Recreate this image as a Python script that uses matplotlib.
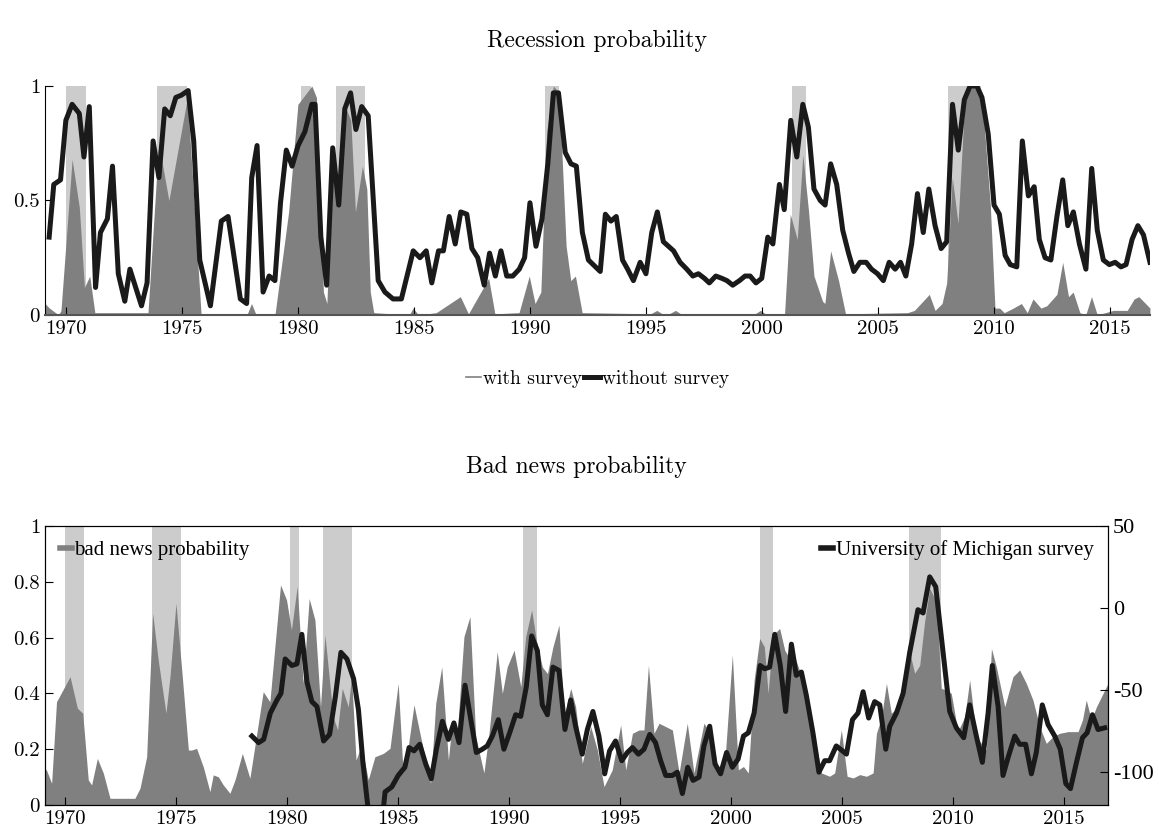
import numpy as np
import matplotlib
matplotlib.use("Agg")
import matplotlib.pyplot as plt
from matplotlib.lines import Line2D

plt.rcParams['font.family'] = ['cmr10', 'DejaVu Serif']
plt.rcParams['axes.unicode_minus'] = False
plt.rcParams['mathtext.fontset'] = 'cm'

# recession bands (NBER)
rec_start = [1970.0, 1973.93, 1980.13, 1981.64, 1990.63, 2001.3, 2008.02]
rec_end = [1970.86, 1975.21, 1980.55, 1982.91, 1991.25, 2001.9, 2009.44]

# top panel: recession probability without survey (line)
no_surv_t = [1969.28, 1969.48, 1969.77, 1970.0, 1970.27, 1970.58, 1970.78, 1971.01, 1971.28, 1971.49,
             1971.79, 1972.01, 1972.26, 1972.54, 1972.76, 1973.26, 1973.5, 1973.76, 1974.01, 1974.26,
             1974.5, 1974.74, 1974.98, 1975.27, 1975.51, 1975.77, 1976.23, 1976.7, 1976.99, 1977.52,
             1977.79, 1978.01, 1978.24, 1978.5, 1978.76, 1979.01, 1979.25, 1979.5, 1979.75, 1980.01,
             1980.3, 1980.6, 1980.74, 1980.99, 1981.24, 1981.5, 1981.76, 1982.02, 1982.27, 1982.5,
             1982.75, 1983.03, 1983.46, 1983.75, 1984.1, 1984.46, 1984.97, 1985.26, 1985.53, 1985.77,
             1986.06, 1986.27, 1986.52, 1986.78, 1987.02, 1987.28, 1987.5, 1987.75, 1988.03, 1988.26,
             1988.51, 1988.75, 1989.0, 1989.26, 1989.54, 1989.77, 1990.0, 1990.26, 1990.52, 1990.77,
             1991.01, 1991.23, 1991.52, 1991.77, 1992.0, 1992.26, 1992.52, 1993.03, 1993.25, 1993.49,
             1993.72, 1993.99, 1994.21, 1994.46, 1994.75, 1995.0, 1995.25, 1995.49, 1995.75, 1996.19,
             1996.47, 1996.76, 1997.02, 1997.26, 1997.52, 1997.73, 1998.01, 1998.27, 1998.49, 1998.74,
             1999.03, 1999.27, 1999.49, 1999.74, 1999.99, 2000.25, 2000.47, 2000.75, 2000.96, 2001.24,
             2001.5, 2001.76, 2002.0, 2002.24, 2002.51, 2002.72, 2002.96, 2003.22, 2003.48, 2003.73,
             2003.96, 2004.22, 2004.49, 2004.72, 2004.98, 2005.23, 2005.48, 2005.74, 2005.97, 2006.2,
             2006.45, 2006.7, 2006.95, 2007.19, 2007.46, 2007.72, 2007.96, 2008.21, 2008.46, 2008.72,
             2008.97, 2009.26, 2009.48, 2009.75, 2010.0, 2010.23, 2010.48, 2010.7, 2010.98, 2011.22,
             2011.48, 2011.73, 2011.95, 2012.2, 2012.45, 2012.71, 2012.96, 2013.18, 2013.42, 2013.68,
             2013.96, 2014.21, 2014.45, 2014.71, 2014.97, 2015.22, 2015.47, 2015.69, 2015.95, 2016.2,
             2016.44, 2016.72]
no_surv_v = [0.34, 0.57, 0.59, 0.85, 0.92, 0.88, 0.69, 0.91, 0.12, 0.36,
             0.42, 0.65, 0.18, 0.06, 0.2, 0.04, 0.14, 0.76, 0.60, 0.90,
             0.87, 0.95, 0.96, 0.98, 0.76, 0.24, 0.04, 0.41, 0.43, 0.07,
             0.05, 0.60, 0.74, 0.10, 0.17, 0.15, 0.49, 0.72, 0.65, 0.74,
             0.80, 0.92, 0.92, 0.34, 0.13, 0.73, 0.48, 0.90, 0.97, 0.81,
             0.91, 0.87, 0.15, 0.10, 0.07, 0.07, 0.28, 0.25, 0.28, 0.14,
             0.28, 0.28, 0.43, 0.31, 0.45, 0.44, 0.29, 0.25, 0.13, 0.27,
             0.17, 0.28, 0.17, 0.17, 0.20, 0.25, 0.49, 0.30, 0.42, 0.66,
             0.97, 0.97, 0.71, 0.66, 0.65, 0.36, 0.24, 0.19, 0.44, 0.41,
             0.43, 0.24, 0.20, 0.15, 0.23, 0.18, 0.36, 0.45, 0.32, 0.28,
             0.23, 0.20, 0.17, 0.18, 0.16, 0.14, 0.17, 0.16, 0.15, 0.13,
             0.15, 0.17, 0.17, 0.14, 0.16, 0.34, 0.31, 0.57, 0.46, 0.85,
             0.69, 0.92, 0.82, 0.55, 0.50, 0.48, 0.66, 0.57, 0.37, 0.27,
             0.19, 0.23, 0.23, 0.20, 0.18, 0.15, 0.23, 0.20, 0.23, 0.17,
             0.31, 0.53, 0.36, 0.55, 0.39, 0.29, 0.32, 0.92, 0.72, 0.94,
             1.0, 1.0, 0.95, 0.79, 0.48, 0.44, 0.26, 0.22, 0.21, 0.76,
             0.52, 0.56, 0.33, 0.25, 0.24, 0.43, 0.59, 0.39, 0.45, 0.31,
             0.20, 0.64, 0.37, 0.24, 0.22, 0.23, 0.21, 0.22, 0.33, 0.39,
             0.35, 0.23]

# top panel: recession probability with survey (area)
with_surv_t = [1969.1, 1969.29, 1969.69, 1969.79, 1970.27, 1970.58, 1970.8, 1971.03, 1971.25, 1973.54,
               1973.75, 1974.0, 1974.44, 1975.24, 1975.83, 1977.8, 1978.0, 1978.2, 1979.01, 1979.6,
               1980.0, 1980.6, 1980.8, 1981.1, 1981.25, 1981.5, 1981.76, 1982.08, 1982.28, 1982.48,
               1982.78, 1982.97, 1983.12, 1983.27, 1984.8, 1984.96, 1985.2, 1985.96, 1987.0, 1987.35,
               1988.22, 1988.49, 1989.53, 1989.97, 1990.22, 1990.47, 1990.72, 1991.01, 1991.26, 1991.56,
               1991.76, 1991.96, 1992.25, 1995.2, 1995.47, 1995.7, 1996.0, 1996.27, 1996.5, 1999.7,
               1999.93, 2000.15, 2000.73, 2000.97, 2001.22, 2001.52,
               2001.76, 2002.01, 2002.24, 2002.61, 2002.71, 2002.96, 2003.3, 2003.6, 2006.27, 2006.57,
               2007.21, 2007.46, 2007.76, 2007.96, 2008.2, 2008.45, 2008.75, 2009.1, 2009.48, 2009.84,
               2010.04, 2010.24, 2010.44, 2010.83, 2011.18, 2011.43, 2011.68, 2012.02, 2012.27, 2012.71,
               2012.96, 2013.21, 2013.41, 2013.7, 2013.95, 2014.2, 2014.45, 2015.14, 2015.74, 2016.04,
               2016.24, 2016.72]
with_surv_v = [0.05, 0.03, 0.0, 0.02, 0.68, 0.47, 0.12, 0.17, 0.01, 0.01,
               0.35, 0.75, 0.5, 0.95, 0.0, 0.0, 0.05, 0.0, 0.0, 0.45,
               0.92, 1.0, 0.95, 0.1, 0.05, 0.73, 0.5, 0.9, 0.85, 0.45,
               0.65, 0.55, 0.1, 0.01, 0.0, 0.03, 0.0, 0.01, 0.08, 0.005,
               0.16, 0.005, 0.01, 0.17, 0.05, 0.1, 0.8, 1.0, 0.97, 0.3,
               0.15, 0.17, 0.01, 0.005, 0.02, 0.005, 0.005, 0.02, 0.005, 0.005,
               0.02, 0.005, 0.005, 0.0, 0.44, 0.33,
               0.70, 0.45, 0.17, 0.06, 0.05, 0.28, 0.15, 0.005, 0.01, 0.02,
               0.09, 0.02, 0.05, 0.14, 0.6, 0.4, 0.96, 1.0, 0.96, 0.48,
               0.03, 0.03, 0.01, 0.03, 0.05, 0.01, 0.07, 0.03, 0.04, 0.09,
               0.23, 0.08, 0.1, 0.01, 0.0, 0.08, 0.0, 0.02, 0.02, 0.07,
               0.08, 0.03]

# bottom panel: bad news probability (area, left axis)
bad_t = [1969.1, 1969.17, 1969.4, 1969.62, 1970.23, 1970.56, 1970.8, 1971.05, 1971.2, 1971.46,
         1971.73, 1972.03, 1973.15, 1973.38, 1973.68, 1973.95, 1974.2, 1974.55, 1974.73, 1975.0,
         1975.26, 1975.56, 1975.71, 1975.93, 1976.23, 1976.53, 1976.68, 1976.91, 1977.13, 1977.43,
         1977.66, 1977.99, 1978.33, 1978.93, 1979.23, 1979.71, 1979.98, 1980.2, 1980.46, 1980.73,
         1981.0, 1981.26, 1981.51, 1981.71, 1982.08, 1982.28, 1982.49, 1982.76, 1982.91, 1983.11,
         1983.36, 1983.66, 1983.96, 1984.34, 1984.64, 1985.01, 1985.23, 1985.42, 1985.72, 1986.02,
         1986.47, 1986.7, 1986.97, 1987.27, 1987.45, 1987.67, 1987.97, 1988.24, 1988.5, 1988.87,
         1989.1, 1989.47, 1989.7, 1989.92, 1990.23, 1990.53, 1990.75, 1991.02, 1991.23, 1991.5,
         1991.73, 1991.98, 1992.25, 1992.48, 1992.78, 1993.0, 1993.3, 1993.68, 1993.98, 1994.28,
         1994.65, 1995.03, 1995.26, 1995.56, 1995.86, 1996.08, 1996.28, 1996.53, 1996.76, 1997.06,
         1997.36, 1997.66, 1998.03, 1998.33, 1998.78, 1999.08, 1999.46, 1999.76, 2000.06, 2000.33,
         2000.56, 2000.78, 2001.04, 2001.29, 2001.5, 2001.67, 2001.89, 2002.19, 2002.42, 2002.64,
         2002.87, 2003.39, 2003.77, 2004.07, 2004.44, 2004.67, 2004.97, 2005.23, 2005.5, 2005.8,
         2006.1, 2006.4, 2006.55, 2006.77, 2007.0, 2007.22, 2007.45, 2007.75, 2007.97, 2008.27,
         2008.5, 2008.72, 2008.95, 2009.25, 2009.47, 2009.7, 2009.92, 2010.22, 2010.53, 2010.75,
         2011.05, 2011.5, 2011.73, 2011.95, 2012.33, 2012.7, 2013.0, 2013.3, 2013.6, 2013.9,
         2014.2, 2014.5, 2014.8, 2015.18, 2015.63, 2015.83, 2016.0, 2016.23, 2016.46, 2016.98]
bad_v = [0.13, 0.125, 0.078, 0.37, 0.46, 0.347, 0.329, 0.09, 0.072, 0.167,
         0.114, 0.024, 0.024, 0.06, 0.173, 0.687, 0.52, 0.329, 0.46, 0.723,
         0.484, 0.197, 0.197, 0.203, 0.137, 0.048, 0.108, 0.101, 0.072, 0.042,
         0.09, 0.185, 0.096, 0.406, 0.37, 0.789, 0.735, 0.627, 0.783, 0.436,
         0.74, 0.663, 0.352, 0.609, 0.316, 0.269, 0.418, 0.352, 0.46, 0.161,
         0.215, 0.09, 0.173, 0.185, 0.203, 0.436, 0.115, 0.185, 0.359, 0.245,
         0.078, 0.364, 0.495, 0.161, 0.305, 0.257, 0.603, 0.675, 0.245, 0.115,
         0.257, 0.55, 0.40, 0.495, 0.555, 0.424, 0.603, 0.699, 0.591, 0.495,
         0.471, 0.567, 0.645, 0.317, 0.418, 0.352, 0.149, 0.281, 0.197, 0.066,
         0.126, 0.287, 0.126, 0.257, 0.269, 0.269, 0.501, 0.257, 0.293, 0.281,
         0.269, 0.115, 0.293, 0.115, 0.293, 0.257, 0.115, 0.197, 0.538, 0.126,
         0.138, 0.115, 0.448, 0.597, 0.567, 0.40, 0.609, 0.633, 0.555, 0.525,
         0.531, 0.412, 0.245, 0.115, 0.103, 0.115, 0.269, 0.103, 0.097, 0.109,
         0.103, 0.115, 0.257, 0.311, 0.436, 0.329, 0.347, 0.418, 0.573, 0.472,
         0.501, 0.657, 0.776, 0.728, 0.418, 0.412, 0.40, 0.263, 0.317, 0.448,
         0.245, 0.197, 0.561, 0.495, 0.352, 0.46, 0.484, 0.436, 0.376, 0.281,
         0.221, 0.245, 0.257, 0.263, 0.263, 0.305, 0.376, 0.305, 0.352, 0.436]

# bottom panel: University of Michigan survey (line, right axis)
mich_t = [1978.42, 1978.72, 1978.95, 1979.25, 1979.55, 1979.73, 1979.92, 1980.22, 1980.45, 1980.67,
          1980.9, 1981.12, 1981.35, 1981.65, 1981.92, 1982.18, 1982.43, 1982.7, 1983.0, 1983.22,
          1983.42, 1983.8, 1984.2, 1984.42, 1984.72, 1985.01, 1985.31, 1985.5, 1985.72, 1985.98,
          1986.25, 1986.5, 1986.73, 1987.0, 1987.27, 1987.52, 1987.75, 1988.02, 1988.27, 1988.53,
          1988.8, 1989.02, 1989.25, 1989.52, 1989.77, 1990.03, 1990.3, 1990.53, 1990.78, 1991.02,
          1991.28, 1991.5, 1991.73, 1991.98, 1992.25, 1992.52, 1992.78, 1993.0, 1993.3, 1993.53,
          1993.78, 1994.05, 1994.31, 1994.53, 1994.8, 1995.08, 1995.33, 1995.56, 1995.83, 1996.08,
          1996.34, 1996.6, 1996.83, 1997.06, 1997.36, 1997.58, 1997.81, 1998.05, 1998.29, 1998.56,
          1998.78, 1999.04, 1999.28, 1999.53, 1999.8, 2000.06, 2000.32, 2000.56, 2000.78, 2001.04,
          2001.31, 2001.52, 2001.74, 2001.97, 2002.22, 2002.46, 2002.72, 2002.94, 2003.17, 2003.39,
          2003.69, 2003.96, 2004.22, 2004.44, 2004.74, 2005.2, 2005.47, 2005.72, 2005.95, 2006.2,
          2006.47, 2006.7, 2006.97, 2007.15, 2007.45, 2007.75, 2008.05, 2008.42, 2008.65, 2008.95,
          2009.22, 2009.55, 2009.85, 2010.15, 2010.48, 2010.75, 2011.05, 2011.32, 2011.58, 2011.77,
          2012.03, 2012.25, 2012.48, 2012.78, 2013.0, 2013.27, 2013.53, 2013.75, 2014.02, 2014.28,
          2014.58, 2014.83, 2015.08, 2015.29, 2015.56, 2015.83, 2016.04, 2016.28, 2016.53, 2016.83]
mich_v = [-78, -82, -80, -64, -56, -52, -31, -35, -34, -16,
          -45, -57, -60, -81, -77, -54, -27, -31, -43, -62,
          -94, -140, -140, -112, -109, -102, -97, -85, -87, -83,
          -95, -104, -86, -69, -80, -70, -82, -47, -67, -88,
          -86, -84, -78, -68, -86, -76, -65, -66, -48, -17,
          -26, -59, -65, -36, -38, -74, -56, -72, -89, -74,
          -63, -78, -101, -87, -81, -93, -88, -85, -89, -86,
          -77, -82, -93, -102, -102, -100, -113, -97, -105, -103,
          -84, -72, -95, -101, -88, -97, -92, -78, -76, -64,
          -35, -37, -36, -16, -35, -63, -22, -41, -39, -53,
          -76, -100, -93, -93, -84, -89, -68, -64, -51, -67,
          -57, -59, -86, -72, -64, -52, -27, -1, -3, 19,
          13, -27, -63, -73, -79, -59, -78, -94, -64, -35,
          -60, -102, -91, -78, -83, -83, -101, -88, -59, -71,
          -78, -86, -107, -110, -94, -79, -76, -65, -74, -73]

dark = '#808080'
light = '#cccccc'
black = '#1a1a1a'

fig = plt.figure(figsize=(11.59, 8.39), dpi=100)

# ---- top panel ----
ax1 = fig.add_axes([0.0388, 0.6246, 0.9534, 0.2729])
for s, e in zip(rec_start, rec_end):
    ax1.axvspan(s, e, color=light, lw=0, zorder=0)
ax1.fill_between(with_surv_t, with_surv_v, color=dark, lw=0, zorder=1)
ax1.plot(no_surv_t, no_surv_v, color=black, lw=3.6, zorder=3)
ax1.set_xlim(1969.1, 2016.72)
ax1.set_ylim(0, 1)
ax1.set_yticks([0, 0.5, 1])
ax1.set_yticklabels(['0', '0.5', '1'])
ax1.set_xticks(range(1970, 2016, 5))
ax1.spines['top'].set_visible(False)
ax1.spines['right'].set_visible(False)
ax1.spines['bottom'].set_color('#555555')
ax1.spines['bottom'].set_linewidth(1.5)
ax1.tick_params(direction='in', length=6, labelsize=15)
ax1.set_title('Recession probability', fontsize=17, pad=28)
handles = [Line2D([], [], color=dark, lw=1.2), Line2D([], [], color=black, lw=3.6)]
ax1.legend(handles, ['with survey', 'without survey'], loc='upper center',
           bbox_to_anchor=(0.5, -0.165), ncol=2, frameon=False, fontsize=14,
           handlelength=0.8, handletextpad=0.1, columnspacing=0.1)

# ---- bottom panel ----
ax2 = fig.add_axes([0.0388, 0.0405, 0.9172, 0.3326])
for s, e in zip(rec_start, rec_end):
    ax2.axvspan(s, e, color=light, lw=0, zorder=0)
ax2.fill_between(bad_t, bad_v, color=dark, lw=0, zorder=1)
ax2.set_xlim(1969.1, 2016.98)
ax2.set_ylim(0, 1)
ax2.set_yticks(np.arange(0, 1.01, 0.2))
ax2.set_yticklabels(['0', '0.2', '0.4', '0.6', '0.8', '1'])
ax2.set_xticks(range(1970, 2016, 5))
ax2.tick_params(direction='in', length=6, labelsize=15)
ax2.set_title('Bad news probability', fontsize=17, pad=38)
ax2.legend([Line2D([], [], color=dark, lw=4)], ['bad news probability'], loc='upper left',
           frameon=False, prop={'family': 'Liberation Serif', 'size': 15},
           handlelength=0.6, handletextpad=0.1, borderaxespad=0.3)

ax3 = ax2.twinx()
ax3.plot(mich_t, mich_v, color=black, lw=3.6, zorder=3)
ax3.set_ylim(-120, 50)
ax3.set_yticks([-100, -50, 0, 50])
ax3.set_yticklabels(['-100', '-50', '0', '50'], family='Liberation Serif')
ax3.tick_params(direction='in', length=6, labelsize=16)
ax3.legend([Line2D([], [], color=black, lw=4)], ['University of Michigan survey'],
           loc='upper right', frameon=False, prop={'family': 'Liberation Serif', 'size': 15},
           handlelength=0.6, handletextpad=0.1, borderaxespad=0.3)

fig.savefig('out.png', dpi=100)
